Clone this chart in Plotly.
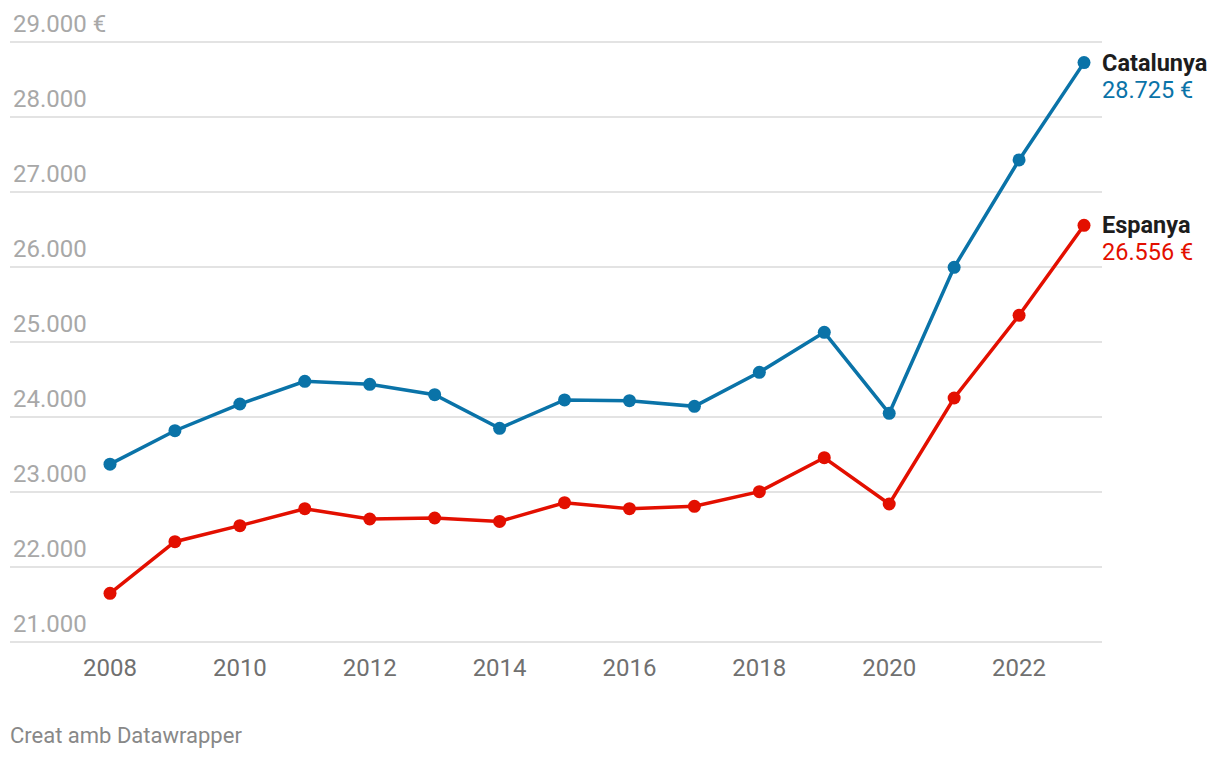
import plotly.graph_objects as go

years = list(range(2008, 2024))
catalunya = [23371, 23817, 24173, 24476, 24436, 24297, 23849, 24227, 24218, 24142,
             24596, 25129, 24049, 25996, 27427, 28725]
espanya = [21649, 22337, 22551, 22777, 22640, 22653, 22608, 22857, 22777, 22809,
           23004, 23457, 22840, 24253, 25356, 26556]
series_names = ["Catalunya", "Espanya"]
series_colors = ["#0a73a8", "#e30f00"]
y_ticks = [21000, 22000, 23000, 24000, 25000, 26000, 27000, 28000, 29000]
x_ticks = [2008, 2010, 2012, 2014, 2016, 2018, 2020, 2022]
footer = "Creat amb Datawrapper"


def fmt(v):
    return f"{v:,}".replace(",", ".")


y_text = [fmt(v) + (" €" if v == y_ticks[-1] else "") for v in y_ticks]

fig = go.Figure()
for name, vals, col in zip(series_names, [catalunya, espanya], series_colors):
    fig.add_trace(go.Scatter(
        x=years, y=vals, mode="lines+markers", name=name,
        line=dict(color=col, width=3.5),
        marker=dict(color=col, size=13),
        hoverinfo="skip", cliponaxis=False,
    ))
    fig.add_annotation(
        x=years[-1], y=vals[-1], xref="x", yref="y",
        text=f"<b>{name}</b>", showarrow=False,
        xanchor="left", yanchor="middle", xshift=16, yshift=0,
        font=dict(family="Roboto", size=23.5, color="#1d1d1d"),
    )
    fig.add_annotation(
        x=years[-1], y=vals[-1], xref="x", yref="y",
        text=f"{fmt(vals[-1])} €", showarrow=False,
        xanchor="left", yanchor="middle", xshift=16, yshift=-27,
        font=dict(family="Roboto", size=23.5, color=col),
    )

fig.add_annotation(
    x=0, y=0, xref="paper", yref="paper", xanchor="left", yanchor="middle",
    xshift=-2, yshift=-91,
    text=footer, showarrow=False,
    font=dict(family="Roboto", size=22, color="#888888"),
)

# page has an 8px body margin: figure is 1212x750 placed at (8, 8)
fig.update_layout(
    width=1212, height=750,
    margin=dict(l=2, r=118, t=0, b=114, pad=0),
    paper_bgcolor="white", plot_bgcolor="white",
    showlegend=False,
    font=dict(family="Roboto"),
    xaxis=dict(
        range=[2006.46, 2023.277],
        tickvals=x_ticks, ticktext=[str(t) for t in x_ticks],
        showgrid=False, zeroline=False, showline=False,
        ticks="outside", ticklen=2, tickcolor="rgba(0,0,0,0)",
        tickfont=dict(family="Roboto", size=24, color="#707070"),
        fixedrange=True,
    ),
    yaxis=dict(
        range=[20973.33, 29453.33],
        tickvals=y_ticks, ticktext=y_text,
        ticklabelposition="inside top", ticklabelshift=-2,
        showgrid=True, gridcolor="#e3e3e3", gridwidth=2,
        zeroline=False, showline=False, ticks="",
        tickfont=dict(family="Roboto", size=24, color="#a8a8a8"),
        fixedrange=True,
    ),
)

fig.write_html("out.html")
